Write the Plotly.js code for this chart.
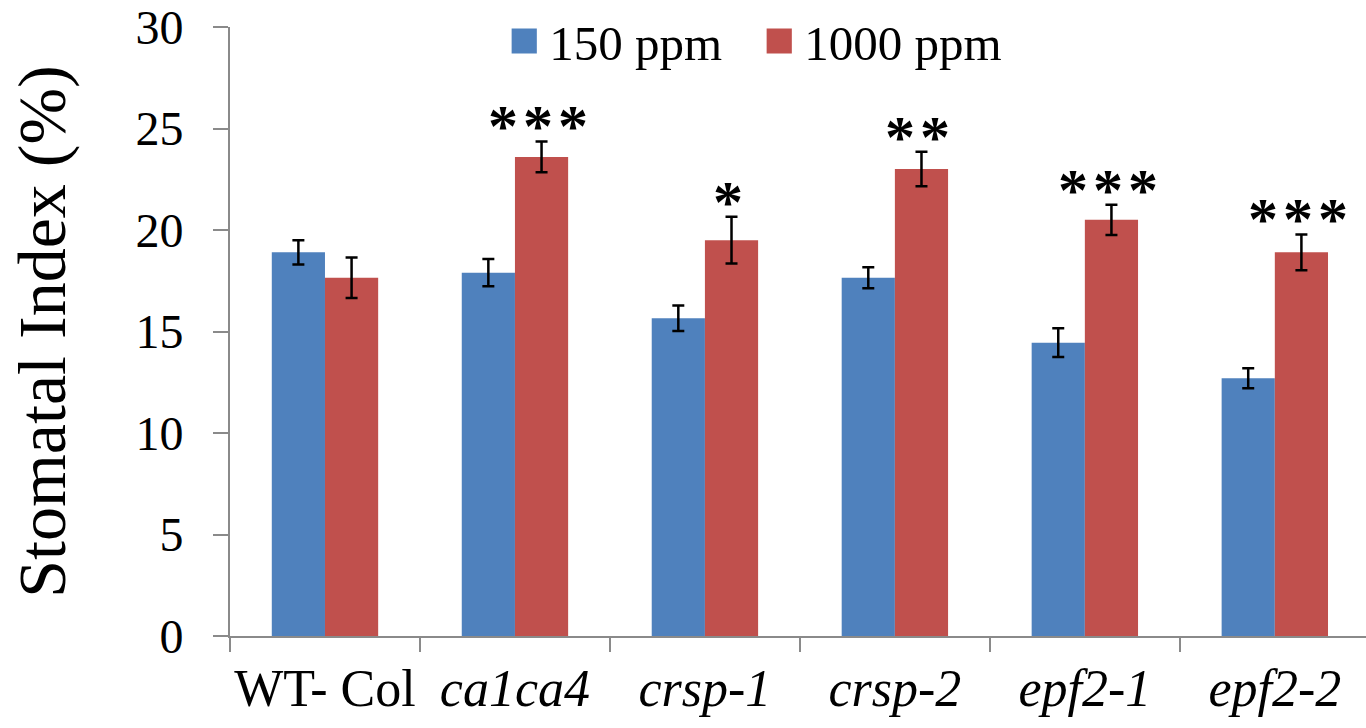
<!DOCTYPE html>
<html>
<head>
<meta charset="utf-8">
<script src="https://cdn.plot.ly/plotly-3.0.1.min.js"></script>
<style>html,body{margin:0;padding:0;background:#fff;}#chart{width:1366px;height:728px;}</style>
</head>
<body>
<div id="chart"></div>
<script>
const categories = ['WT- Col', 'ca1ca4', 'crsp-1', 'crsp-2', 'epf2-1', 'epf2-2'];
const tickLabels = ['WT- Col', '<i>ca1ca4</i>', '<i>crsp-1</i>', '<i>crsp-2</i>', '<i>epf2-1</i>', '<i>epf2-2</i>'];
const si150 = [18.9, 17.9, 15.65, 17.65, 14.45, 12.7];
const err150 = [0.6, 0.67, 0.63, 0.52, 0.71, 0.49];
const si1000 = [17.65, 23.6, 19.5, 23.0, 20.5, 18.9];
const err1000 = [1.0, 0.76, 1.15, 0.85, 0.75, 0.88];
const significance = ['', '***', '*', '**', '***', '***'];
const seriesNames = ['150 ppm', '1000 ppm'];

const FONT = 'Liberation Serif, Times New Roman, serif';
const AXIS_GREY = '#8a8a8a';

const traces = [
  {
    type: 'bar', name: seriesNames[0], x: categories, y: si150,
    marker: {color: '#4F81BD'},
    error_y: {type: 'data', array: err150, visible: true, color: '#000', thickness: 2.5, width: 6}
  },
  {
    type: 'bar', name: seriesNames[1], x: categories, y: si1000,
    marker: {color: '#C0504D'},
    error_y: {type: 'data', array: err1000, visible: true, color: '#000', thickness: 2.5, width: 6}
  }
];

const annotations = [];
categories.forEach((c, i) => {
  if (!significance[i]) return;
  annotations.push({
    x: c, y: si1000[i] + err1000[i], xref: 'x', yref: 'y',
    text: significance[i].split('').join('\u200A'),
    showarrow: false, xanchor: 'center', yanchor: 'bottom',
    xshift: 23, yshift: -20,
    font: {family: FONT, size: 60, color: '#000', weight: 'bold'}
  });
});

const layout = {
  width: 1366, height: 728,
  margin: {l: 230, r: 0, t: 27, b: 92},
  paper_bgcolor: '#fff', plot_bgcolor: '#fff',
  font: {family: FONT, color: '#000', size: 48},
  barmode: 'group', bargap: 0.44, bargroupgap: 0,
  showlegend: true,
  legend: {
    orientation: 'h', x: 0.237, xanchor: 'left', y: 1.04, yanchor: 'top',
    font: {family: FONT, size: 49, color: '#000'},
    bgcolor: 'rgba(0,0,0,0)', itemwidth: 40, traceorder: 'normal',
    entrywidth: 200, entrywidthmode: 'pixels'
  },
  xaxis: {
    type: 'category', categoryorder: 'array', categoryarray: categories,
    tickvals: categories, ticktext: tickLabels,
    tickson: 'boundaries', ticks: 'outside', ticklen: 14, tickwidth: 2, tickcolor: AXIS_GREY,
    showline: true, linecolor: AXIS_GREY, linewidth: 2,
    showgrid: false, zeroline: false,
    range: [-0.5, 5.48], tickangle: 0,
    tickfont: {family: FONT, size: 52, color: '#000'},
    ticklabelstandoff: 6
  },
  yaxis: {
    range: [0, 30], dtick: 5, tick0: 0,
    ticks: 'outside', ticklen: 15, tickwidth: 2, tickcolor: AXIS_GREY,
    showline: true, linecolor: AXIS_GREY, linewidth: 2,
    showgrid: false, zeroline: false,
    tickfont: {family: FONT, size: 48, color: '#000'},
    ticklabelstandoff: 20,
    title: {text: 'Stomatal Index (%)', font: {family: FONT, size: 68, color: '#000'}, standoff: 48}
  },
  annotations: annotations
};

Plotly.newPlot('chart', traces, layout, {staticPlot: true}).then(() => {
  document.querySelectorAll('.legend .legendpoints path').forEach(p => {
    const t = p.getAttribute('transform') || '';
    p.setAttribute('transform', t + ' scale(2.1)');
  });
});
</script>
</body>
</html>
